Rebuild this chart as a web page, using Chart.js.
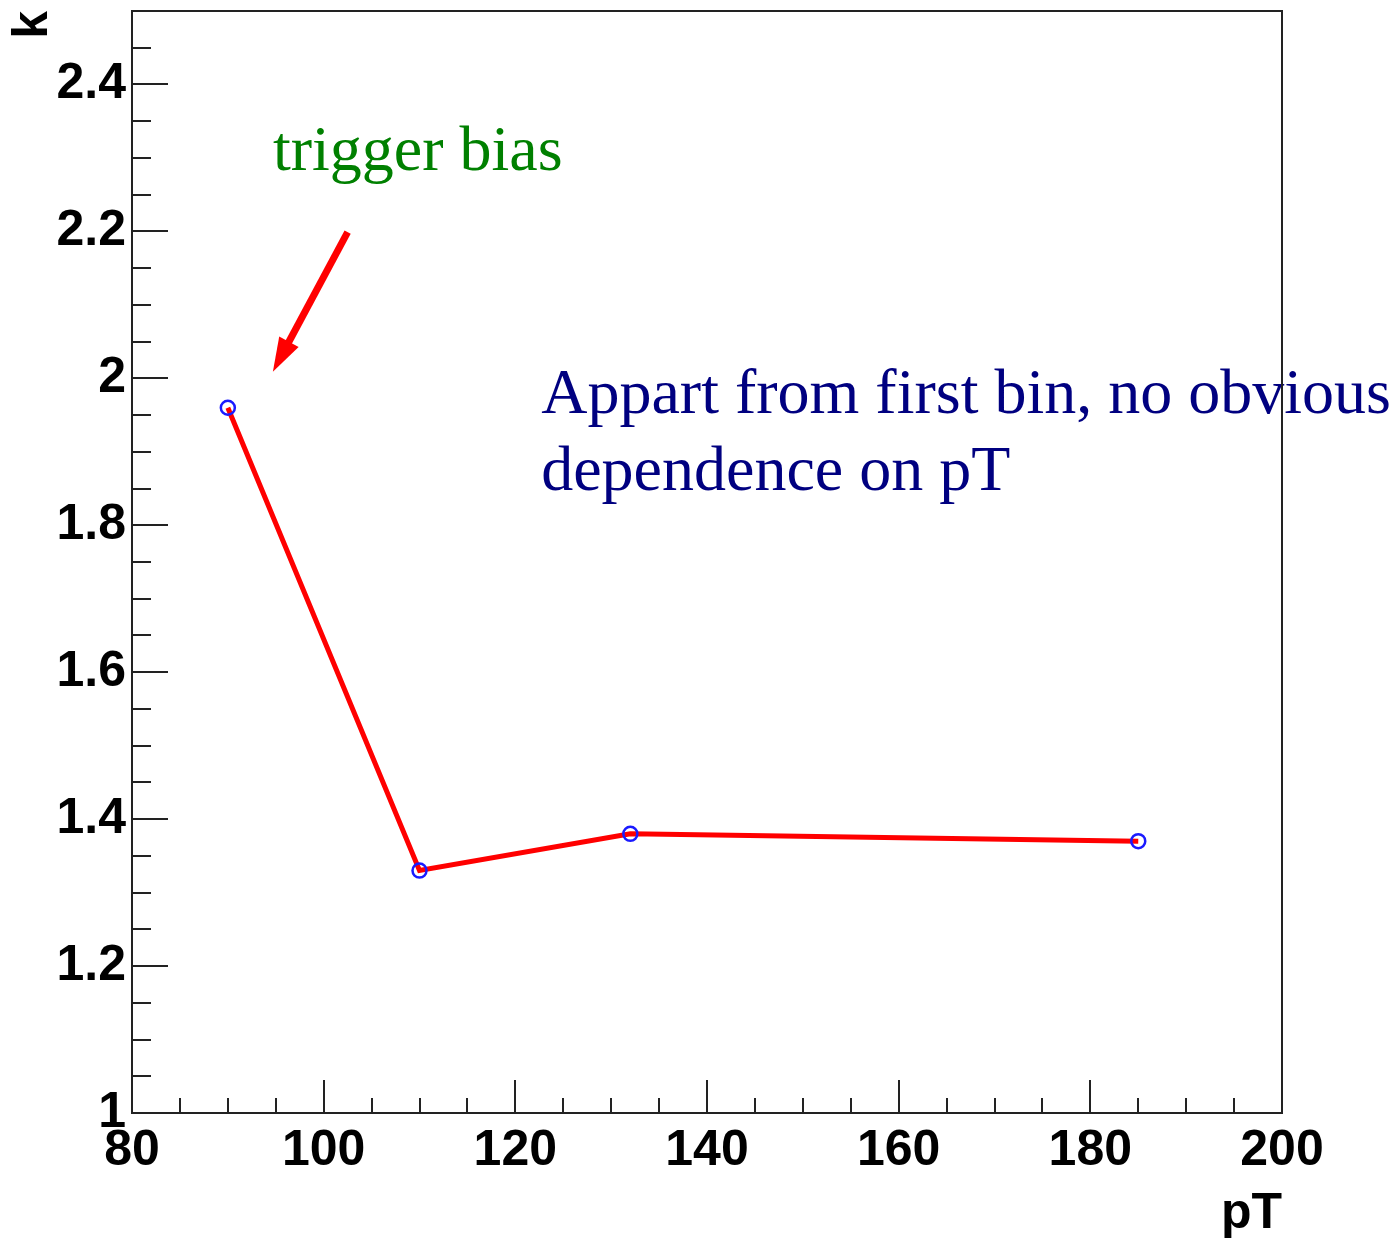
<!DOCTYPE html>
<html>
<head>
<meta charset="utf-8">
<script src="https://cdn.jsdelivr.net/npm/chart.js@4/dist/chart.umd.min.js"></script>
<style>
  html, body { margin: 0; padding: 0; background: #fff; }
  canvas { display: block; }
</style>
</head>
<body>
<canvas id="c" width="1397" height="1241"></canvas>
<script>
// k versus pT, one value per bin
const pT = [90, 110, 132, 185];
const kValues = [1.96, 1.33, 1.38, 1.37];

// labelled (major) ticks; minor ticks fall every step in between
const xTickLabels = [80, 100, 120, 140, 160, 180, 200];
const yTickLabels = [1, 1.2, 1.4, 1.6, 1.8, 2, 2.2, 2.4];
const xMinorStep = 5;
const yMinorStep = 0.05;

// notes placed in data units
const noteTrigger = 'trigger bias';
const noteTrend = ['Appart from first bin, no obvious', 'dependence on pT'];
const noteTriggerAt = { x: 94.7, y: 2.284 };
const noteTrendAt = { x: 122.7, y: 1.953, lineStep: 0.105 };
const arrowFrom = { x: 102.5, y: 2.199 };
const arrowTo = { x: 94.7, y: 2.009 };

const AXIS_FONT = { family: '"Liberation Sans", Arial, sans-serif', weight: 'bold', size: 50, lineHeight: 1 };
const FRAME = '#222';

function labelFor(list, v) {
  const hit = list.find(l => Math.abs(l - v) < 1e-6);
  return hit === undefined ? null : String(hit);
}

// every minor position from min to max
function stepValues(min, max, step) {
  const out = [];
  const n = Math.round((max - min) / step);
  for (let i = 0; i <= n; i++) out.push(+(min + i * step).toFixed(6));
  return out;
}

const frameAndNotes = {
  id: 'frameAndNotes',
  beforeDatasetsDraw(chart) {
    const { ctx, chartArea: a, scales: { x, y } } = chart;
    ctx.save();

    // annotations
    ctx.textAlign = 'left';
    ctx.textBaseline = 'alphabetic';
    ctx.font = '64px "Liberation Serif", "Times New Roman", serif';
    ctx.fillStyle = '#008000';
    ctx.fillText(noteTrigger, x.getPixelForValue(noteTriggerAt.x), y.getPixelForValue(noteTriggerAt.y));
    ctx.fillStyle = '#000080';
    noteTrend.forEach((t, i) => {
      ctx.fillText(t, x.getPixelForValue(noteTrendAt.x), y.getPixelForValue(noteTrendAt.y - i * noteTrendAt.lineStep));
    });

    // arrow towards the first bin
    const x0 = x.getPixelForValue(arrowFrom.x), y0 = y.getPixelForValue(arrowFrom.y);
    const x1 = x.getPixelForValue(arrowTo.x), y1 = y.getPixelForValue(arrowTo.y);
    const ang = Math.atan2(y1 - y0, x1 - x0);
    const headLen = 34, headHalf = 11;
    const bx = x1 - headLen * Math.cos(ang), by = y1 - headLen * Math.sin(ang);
    ctx.strokeStyle = '#ff0000';
    ctx.lineWidth = 7;
    ctx.lineCap = 'butt';
    ctx.beginPath();
    ctx.moveTo(x0, y0);
    ctx.lineTo(bx + 2 * Math.cos(ang), by + 2 * Math.sin(ang));
    ctx.stroke();
    ctx.fillStyle = '#ff0000';
    ctx.beginPath();
    ctx.moveTo(x1, y1);
    ctx.lineTo(bx + headHalf * Math.sin(ang), by - headHalf * Math.cos(ang));
    ctx.lineTo(bx - headHalf * Math.sin(ang), by + headHalf * Math.cos(ang));
    ctx.closePath();
    ctx.fill();

    // frame and inward tick marks (long at labelled values, short between)
    ctx.strokeStyle = FRAME;
    ctx.lineWidth = 2;
    ctx.strokeRect(a.left, a.top, a.right - a.left, a.bottom - a.top);
    ctx.beginPath();
    stepValues(x.min, x.max, xMinorStep).forEach(v => {
      const px = Math.round(x.getPixelForValue(v));
      const len = labelFor(xTickLabels, v) ? 33 : 15;
      ctx.moveTo(px, a.bottom);
      ctx.lineTo(px, a.bottom - len);
    });
    stepValues(y.min, y.max, yMinorStep).forEach(v => {
      const py = Math.round(y.getPixelForValue(v));
      const len = labelFor(yTickLabels, v) ? 36 : 19;
      ctx.moveTo(a.left, py);
      ctx.lineTo(a.left + len, py);
    });
    ctx.stroke();
    ctx.restore();
  }
};

new Chart(document.getElementById('c'), {
  type: 'line',
  data: {
    datasets: [{
      data: pT.map((v, i) => ({ x: v, y: kValues[i] })),
      borderColor: '#ff0000',
      borderWidth: 5,
      tension: 0,
      fill: false,
      clip: false,
      pointStyle: 'circle',
      pointRadius: 7,
      pointBorderWidth: 2.5,
      pointBorderColor: '#1a1aff',
      pointBackgroundColor: 'rgba(0,0,0,0)'
    }]
  },
  options: {
    responsive: false,
    animation: false,
    devicePixelRatio: 1,
    layout: { padding: { left: 0, right: 115, top: 11, bottom: 0 } },
    plugins: { legend: { display: false }, tooltip: { enabled: false } },
    scales: {
      x: {
        type: 'linear',
        position: 'bottom',
        min: 80,
        max: 200,
        grid: { display: false, drawTicks: false },
        border: { display: false },
        afterBuildTicks(s) { s.ticks = xTickLabels.map(v => ({ value: v })); },
        ticks: {
          autoSkip: false,
          maxRotation: 0,
          minRotation: 0,
          padding: 13,
          color: '#000',
          font: AXIS_FONT,
          callback: v => labelFor(xTickLabels, v)
        },
        title: {
          display: true,
          text: 'pT',
          align: 'end',
          color: '#000',
          font: AXIS_FONT,
          padding: { top: 0, bottom: 2 }
        },
        afterFit(s) {
          s.height = 128;
          s.paddingLeft = 0; s.paddingRight = 0; s.paddingTop = 0; s.paddingBottom = 0;
        }
      },
      y: {
        type: 'linear',
        position: 'left',
        min: 1,
        max: 2.5,
        grid: { display: false, drawTicks: false },
        border: { display: false },
        afterBuildTicks(s) { s.ticks = yTickLabels.map(v => ({ value: v })); },
        ticks: {
          autoSkip: false,
          padding: 6,
          color: '#000',
          font: AXIS_FONT,
          callback: v => labelFor(yTickLabels, v)
        },
        title: {
          display: true,
          text: 'k',
          align: 'end',
          color: '#000',
          font: AXIS_FONT,
          padding: { top: 8, bottom: 0 }
        },
        afterFit(s) {
          s.width = 132;
          s.paddingLeft = 0; s.paddingRight = 0; s.paddingTop = 0; s.paddingBottom = 0;
        }
      }
    }
  },
  plugins: [frameAndNotes]
});
</script>
</body>
</html>
